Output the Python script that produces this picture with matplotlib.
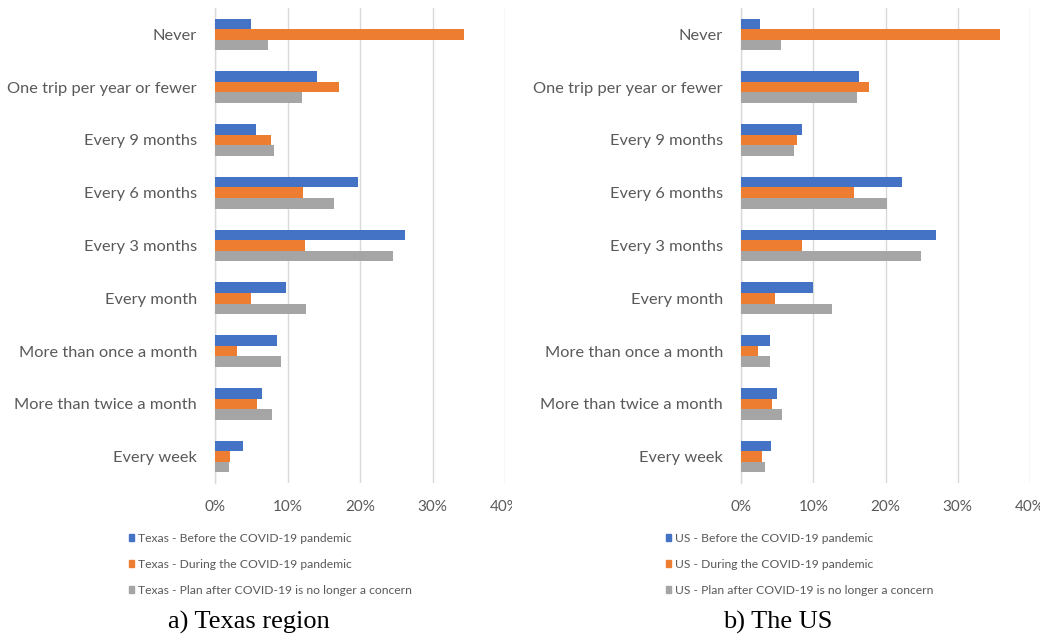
import matplotlib
matplotlib.use("Agg")
import matplotlib.pyplot as plt
from matplotlib.patches import Rectangle
from matplotlib.transforms import Bbox, TransformedBbox
import numpy as np

categories = ["Never", "One trip per year or fewer", "Every 9 months", "Every 6 months",
              "Every 3 months", "Every month", "More than once a month",
              "More than twice a month", "Every week"]

texas_before = [5.0, 14.1, 5.7, 19.7, 26.2, 9.8, 8.6, 6.5, 3.8]
texas_during = [34.3, 17.1, 7.7, 12.2, 12.4, 4.9, 3.1, 5.8, 2.1]
texas_after = [7.3, 12.0, 8.2, 16.4, 24.5, 12.5, 9.1, 7.8, 1.9]

us_before = [2.6, 16.4, 8.4, 22.3, 27.0, 10.0, 4.0, 5.0, 4.1]
us_during = [35.9, 17.7, 7.8, 15.6, 8.5, 4.7, 2.4, 4.3, 2.9]
us_after = [5.5, 16.1, 7.4, 20.2, 24.9, 12.6, 4.0, 5.7, 3.3]

xticks = [0, 10, 20, 30, 40]
xtick_labels = ["0%", "10%", "20%", "30%", "40%"]

texas_legend = ["Texas - Before the COVID-19 pandemic",
                "Texas - During the COVID-19 pandemic",
                "Texas - Plan after COVID-19 is no longer a concern"]
us_legend = ["US - Before the COVID-19 pandemic",
             "US - During the COVID-19 pandemic",
             "US - Plan after COVID-19 is no longer a concern"]
captions = ["a) Texas region", "b) The US"]

colors = ["#4472C4", "#ED7D31", "#A5A5A5"]
GRID = "#D9D9D9"
TXT = "#595959"

W, H = 1045, 638
fig = plt.figure(figsize=(W / 100, H / 100), dpi=100)
fig.patch.set_facecolor("white")

def fx(px):
    return px / W

def fy(py):
    return 1 - py / H

def make_panel(x0, x1, series, legend_labels, leg_x, clip_px, caption, cap_x):
    top, bottom = 8, 483
    ax = fig.add_axes([fx(x0), fy(bottom), fx(x1 - x0), (bottom - top) / H])
    n = len(categories)
    y = np.arange(n)
    bh = 0.2
    for i, (vals, c) in enumerate(zip(series, colors)):
        ax.barh(y + (i - 1) * bh, vals, height=bh, color=c, zorder=3)
    ax.set_xlim(0, 40)
    ax.set_ylim(n - 0.5, -0.5)
    ax.set_yticks(y)
    ax.set_yticklabels(categories, fontsize=11.8, color=TXT, family="Lato")
    ax.set_xticks(xticks)
    ax.set_xticklabels(xtick_labels, fontsize=11, color=TXT, family="Lato")
    ax.tick_params(axis="both", length=0)
    ax.tick_params(axis="y", pad=13)
    ax.tick_params(axis="x", pad=12)
    for s in ["top", "right", "bottom"]:
        ax.spines[s].set_visible(False)
    ax.spines["left"].set_color(GRID)
    ax.spines["left"].set_linewidth(1.0)
    ax.grid(axis="x", color=GRID, linewidth=1.0, zorder=0)
    ax.set_axisbelow(True)
    # clip last tick label as in the reference crop
    lbl = ax.get_xticklabels()[-1]
    lbl.set_clip_on(True)
    lbl.set_clip_box(TransformedBbox(Bbox.from_extents(0, 0, fx(clip_px), 1), fig.transFigure))
    # legend
    for k, (lab, c) in enumerate(zip(legend_labels, colors)):
        yy = [538, 564, 590][k]
        fig.patches.append(Rectangle((fx(leg_x), fy(yy + 3)), fx(5), 7 / H,
                                     transform=fig.transFigure, color=c))
        fig.text(fx(leg_x + 9), fy(yy), lab, fontsize=8.7, color=TXT,
                 family="Lato", va="center", ha="left")
    fig.text(fx(cap_x), fy(622), caption, fontsize=19, color="black",
             family="Liberation Serif", va="center", ha="center")
    return ax

make_panel(215, 505, [texas_before, texas_during, texas_after], texas_legend,
           129, 512, captions[0], 249)
make_panel(741, 1030, [us_before, us_during, us_after], us_legend,
           666, 1040, captions[1], 778)

fig.savefig("out.png", dpi=100, facecolor="white")
